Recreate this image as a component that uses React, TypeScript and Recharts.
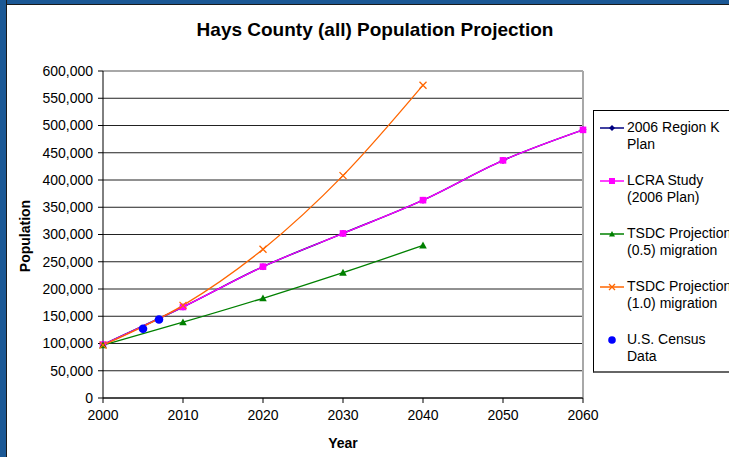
import React from 'react';
import {
  LineChart,
  Line,
  XAxis,
  YAxis,
  CartesianGrid,
  ReferenceLine,
} from 'recharts';

const FONT = 'Arial, "Liberation Sans", sans-serif';

// decade years used by the projections
const years = [2000, 2010, 2020, 2030, 2040, 2050, 2060];
const regionKValues = [98000, 167000, 241000, 302000, 363000, 436000, 492000];
const lcraValues = [98000, 167000, 241000, 302000, 363000, 436000, 492000];
const tsdcHalfYears = [2000, 2010, 2020, 2030, 2040];
const tsdcHalfValues = [97000, 139000, 183000, 230000, 280000];
const tsdcFullYears = [2000, 2010, 2020, 2030, 2040];
const tsdcFullValues = [97000, 170000, 273000, 408000, 574000];
const censusYears = [2005, 2007];
const censusValues = [127000, 144000];

const xTicks = [2000, 2010, 2020, 2030, 2040, 2050, 2060];
const yTicks = [0, 50000, 100000, 150000, 200000, 250000, 300000, 350000, 400000, 450000, 500000, 550000, 600000];

const toRows = (xs: number[], ys: number[]) => xs.map((year, i) => ({ year, value: ys[i] }));

const regionKData = toRows(years, regionKValues);
const lcraData = toRows(years, lcraValues);
const tsdcHalfData = toRows(tsdcHalfYears, tsdcHalfValues);
const tsdcFullData = toRows(tsdcFullYears, tsdcFullValues);
const censusData = toRows(censusYears, censusValues);

const legendItems = [
  { lines: ['2006 Region K', 'Plan'], color: '#000080', marker: 'diamond', line: true },
  { lines: ['LCRA Study', '(2006 Plan)'], color: '#FF00FF', marker: 'square', line: true },
  { lines: ['TSDC Projection', '(0.5) migration'], color: '#008000', marker: 'triangle', line: true },
  { lines: ['TSDC Projection', '(1.0) migration'], color: '#FF6600', marker: 'cross', line: true },
  { lines: ['U.S. Census', 'Data'], color: '#0000FF', marker: 'circle', line: false },
];

function Marker({ kind, cx, cy, color, size = 3.5 }: { kind: string; cx: number; cy: number; color: string; size?: number }) {
  if (kind === 'diamond') {
    return <path d={`M${cx},${cy - size} L${cx + size},${cy} L${cx},${cy + size} L${cx - size},${cy} Z`} fill={color} />;
  }
  if (kind === 'square') {
    return <rect x={cx - size} y={cy - size} width={size * 2} height={size * 2} fill={color} />;
  }
  if (kind === 'triangle') {
    return <path d={`M${cx},${cy - size} L${cx + size},${cy + size * 0.8} L${cx - size},${cy + size * 0.8} Z`} fill={color} />;
  }
  if (kind === 'cross') {
    return (
      <path
        d={`M${cx - size},${cy - size} L${cx + size},${cy + size} M${cx - size},${cy + size} L${cx + size},${cy - size}`}
        stroke={color}
        strokeWidth={1.3}
        fill="none"
      />
    );
  }
  return <circle cx={cx} cy={cy} r={size + 0.8} fill={color} />;
}

const makeDot = (kind: string, color: string, size?: number) => (props: any) => {
  const { cx, cy, index } = props;
  if (cx == null || cy == null) return <g key={index} />;
  return (
    <g key={`${kind}-${index}`}>
      <Marker kind={kind} cx={cx} cy={cy} color={color} size={size} />
    </g>
  );
};

function Legend() {
  return (
    <div
      style={{
        position: 'absolute',
        left: 593,
        top: 110,
        width: 150,
        height: 263,
        border: '1px solid #000',
        borderBottom: '2px solid #666',
        background: '#fff',
        fontFamily: FONT,
        fontSize: 14,
        color: '#000',
        boxSizing: 'border-box',
      }}
    >
      {legendItems.map((item, i) => (
        <div key={item.lines[0] + i} style={{ position: 'absolute', left: 0, top: 8 + i * 53, height: 36, width: 150 }}>
          <svg width={32} height={20} style={{ position: 'absolute', left: 2, top: 0 }}>
            {item.line && <line x1={4} x2={28} y1={9} y2={9} stroke={item.color} strokeWidth={1.5} />}
            <Marker kind={item.marker} cx={16} cy={9} color={item.color} size={item.marker === 'circle' ? 3 : 3} />
          </svg>
          <div style={{ position: 'absolute', left: 33, top: 0, lineHeight: '17px', whiteSpace: 'nowrap' }}>
            {item.lines[0]}
            <br />
            {item.lines[1]}
          </div>
        </div>
      ))}
    </div>
  );
}

export default function App() {
  return (
    <div
      style={{
        position: 'absolute',
        left: 0,
        top: 0,
        width: 729,
        height: 457,
        background: '#fff',
        overflow: 'hidden',
        fontFamily: FONT,
      }}
    >
      {/* frame of the original worksheet */}
      <div style={{ position: 'absolute', left: 0, top: 0, width: 729, height: 4, background: '#1b5895', borderBottom: '1px solid #1a1a1a' }} />
      <div style={{ position: 'absolute', left: 0, top: 0, width: 6, height: 457, background: '#1b5895', borderRight: '1px solid #1a1a1a' }} />

      <div
        style={{
          position: 'absolute',
          left: 0,
          top: 19,
          width: 750,
          textAlign: 'center',
          fontSize: 19,
          fontWeight: 'bold',
          color: '#000',
        }}
      >
        Hays County (all) Population Projection
      </div>

      <div style={{ position: 'absolute', left: 0, top: 0 }}>
        <LineChart width={729} height={457} margin={{ top: 71, right: 146, bottom: 29, left: 43 }}>
          <CartesianGrid vertical={false} stroke="#222" strokeWidth={1} />
          <XAxis
            type="number"
            dataKey="year"
            domain={[2000, 2060]}
            ticks={xTicks}
            allowDuplicatedCategory={false}
            height={30}
            stroke="#000"
            tickSize={5}
            tickMargin={7}
            tick={{ fill: '#000', fontSize: 14, fontFamily: FONT }}
            label={(p: any) => (
              <text x={343} y={448} textAnchor="middle" fontSize={14} fontWeight="bold" fontFamily={FONT} fill="#000">
                Year
              </text>
            )}
          />
          <YAxis
            type="number"
            dataKey="value"
            domain={[0, 600000]}
            ticks={yTicks}
            width={60}
            stroke="#000"
            tickSize={5}
            tickMargin={5}
            tickFormatter={(v: number) => v.toLocaleString('en-US')}
            tick={{ fill: '#000', fontSize: 14, fontFamily: FONT }}
            label={(p: any) => (
              <text
                x={25}
                y={236}
                transform="rotate(-90 25 236)"
                textAnchor="middle"
                dominantBaseline="central"
                fontSize={14}
                fontWeight="bold"
                fontFamily={FONT}
                fill="#000"
              >
                Population
              </text>
            )}
          />
          <ReferenceLine y={600000} stroke="#a8a8a8" strokeWidth={2} />
          <ReferenceLine x={2060} stroke="#a8a8a8" strokeWidth={2} />

          <Line
            data={regionKData}
            dataKey="value"
            type="monotone"
            stroke="#000080"
            strokeWidth={1.5}
            dot={makeDot('diamond', '#000080', 3.5)}
            isAnimationActive={false}
          />
          <Line
            data={lcraData}
            dataKey="value"
            type="monotone"
            stroke="#FF00FF"
            strokeWidth={1.3}
            dot={makeDot('square', '#FF00FF', 3.3)}
            isAnimationActive={false}
          />
          <Line
            data={tsdcHalfData}
            dataKey="value"
            type="monotone"
            stroke="#008000"
            strokeWidth={1.3}
            dot={makeDot('triangle', '#008000', 3.8)}
            isAnimationActive={false}
          />
          <Line
            data={tsdcFullData}
            dataKey="value"
            type="monotone"
            stroke="#FF6600"
            strokeWidth={1.3}
            dot={makeDot('cross', '#FF6600', 3.5)}
            isAnimationActive={false}
          />
          <Line
            data={censusData}
            dataKey="value"
            stroke="none"
            dot={makeDot('circle', '#0000FF', 3.5)}
            isAnimationActive={false}
          />
        </LineChart>
      </div>

      <Legend />
    </div>
  );
}
